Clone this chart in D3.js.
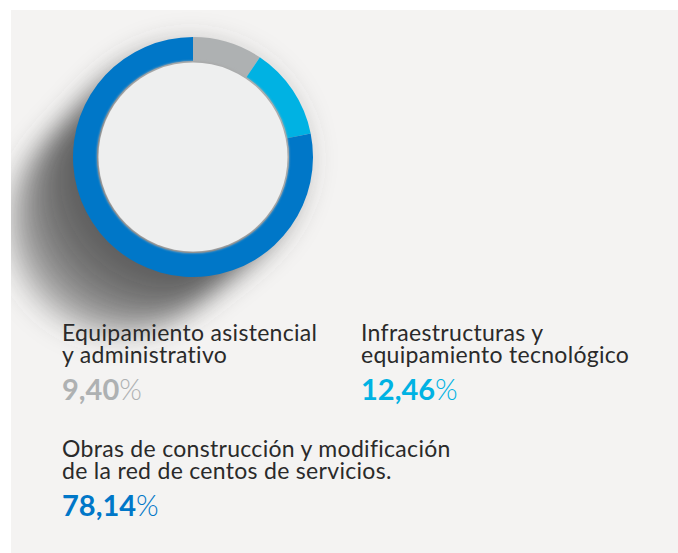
<!DOCTYPE html>
<html lang="es">
  <head>
    <meta charset="utf-8">
    <title>Inversiones</title>
    <style>
      body { margin: 0; background: #fff; }
      .lbl { font-family: Lato, "Noto Sans", sans-serif; font-size: 23px; letter-spacing: 0.3px; fill: #2a2a2a; }
      .pct { font-family: Lato, "Noto Sans", sans-serif; font-size: 29px; }
    </style>
    <script src="https://d3js.org/d3.v7.min.js"></script>
  </head>
  <body>
    <script>
      var w = 678, h = 553;

      // data
      var categories = [
        ["Equipamiento asistencial", "y administrativo"],
        ["Infraestructuras y", "equipamiento tecnológico"],
        ["Obras de construcción y modificación", "de la red de centos de servicios."]
      ];
      var values = [9.40, 12.46, 78.14];
      var colors = ["#aeb1b2", "#00b2e3", "#0077c8"];

      var svg = d3.select("body").append("svg")
        .attr("width", w)
        .attr("height", h);

      var defs = svg.append("defs");
      defs.append("filter").attr("id", "blur")
        .attr("x", "-50%").attr("y", "-50%").attr("width", "200%").attr("height", "200%")
        .append("feGaussianBlur").attr("stdDeviation", 13);
      defs.append("filter").attr("id", "rim")
        .attr("x", "-20%").attr("y", "-20%").attr("width", "140%").attr("height", "140%")
        .append("feGaussianBlur").attr("stdDeviation", 1.2);

      // panel
      svg.append("rect")
        .attr("x", 11).attr("y", 10)
        .attr("width", w - 11).attr("height", h - 10)
        .attr("fill", "#f4f3f2");

      var cx = 193, cy = 157, rOut = 120, rIn = 96;

      // cast shadow toward lower left
      var clip = defs.append("clipPath").attr("id", "panelClip");
      clip.append("rect").attr("x", 11).attr("y", 10).attr("width", w - 11).attr("height", h - 10);
      var shadow = svg.append("g").attr("clip-path", "url(#panelClip)")
        .append("g").attr("filter", "url(#blur)");
      var steps = d3.range(0, 1.0001, 0.05);
      shadow.selectAll("circle")
        .data(steps)
        .enter().append("circle")
        .attr("cx", function(t) { return cx - 78 * t; })
        .attr("cy", function(t) { return cy + 72 * t; })
        .attr("r", function(t) { return rOut - 8 * t; })
        .attr("fill", "#524e51")
        .attr("fill-opacity", 0.1);

      var pie = d3.pie().sort(null);
      var arc = d3.arc().innerRadius(rIn).outerRadius(rOut);

      var g = svg.append("g").attr("transform", "translate(" + cx + "," + cy + ")");
      g.selectAll("path")
        .data(pie(values))
        .enter().append("path")
        .attr("d", arc)
        .attr("fill", function(d, i) { return colors[i]; });

      // inner disc with soft rim
      g.append("circle").attr("r", rIn).attr("fill", "#a9abac").attr("filter", "url(#rim)");
      g.append("circle").attr("r", rIn - 1.5).attr("fill", "#eeefef");

      // labels
      var fmt = function(v) { return d3.format(".2f")(v).replace(".", ","); };
      var pos = [[62, 341], [361, 341], [62, 457]];

      pos.forEach(function(p, i) {
        categories[i].forEach(function(line, j) {
          svg.append("text").attr("class", "lbl")
            .attr("x", p[0]).attr("y", p[1] + j * 22)
            .text(line);
        });
        var pc = svg.append("text").attr("class", "pct")
          .attr("x", p[0]).attr("y", p[1] + 59)
          .attr("fill", colors[i]);
        pc.append("tspan").attr("font-weight", 700).text(fmt(values[i]));
        pc.append("tspan").attr("font-weight", 300).text("%");
      });
    </script>
  </body>
</html>
